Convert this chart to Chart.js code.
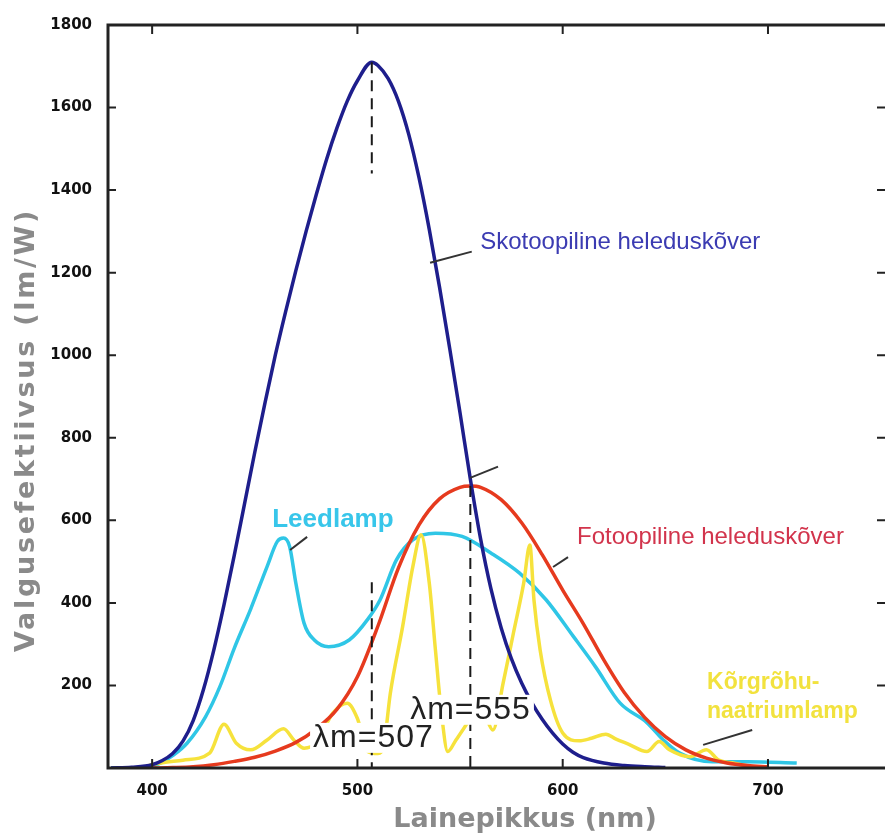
<!DOCTYPE html>
<html>
<head>
<meta charset="utf-8">
<title>Valgusefektiivsus</title>
<script src="https://cdn.jsdelivr.net/npm/chart.js@4.4.1/dist/chart.umd.min.js"></script>
<style>
  html, body { margin: 0; padding: 0; background: #fff; }
  #wrap { width: 885px; height: 837px; }
</style>
</head>
<body>
<div id="wrap"><canvas id="lumChart" width="885" height="837"></canvas></div>
<script>
// scotopic (night) curve
const scotopicNm = [380, 390, 400, 405, 410, 415, 420, 425, 430, 435, 440, 445, 450, 455, 460, 465, 470, 475, 480, 485, 490, 495, 500, 507, 510, 515, 520, 525, 530, 535, 540, 545, 550, 555, 560, 565, 570, 575, 580, 585, 590, 595, 600, 605, 610, 620, 630, 640, 650];
const scotopicLm = [0, 2, 8, 18, 35, 65, 115, 190, 285, 395, 515, 640, 765, 885, 1000, 1105, 1205, 1300, 1390, 1475, 1550, 1615, 1665, 1710, 1702, 1670, 1615, 1535, 1430, 1305, 1165, 1015, 860, 700, 555, 435, 340, 265, 206, 158, 118, 85, 58, 38, 25, 12, 6, 3, 1];

// photopic (day) curve
const photopicNm = [400, 410, 420, 430, 440, 450, 460, 470, 480, 490, 500, 510, 520, 530, 540, 550, 555, 560, 570, 580, 590, 600, 610, 620, 630, 640, 650, 660, 670, 680, 690, 700];
const photopicLm = [0, 1, 3, 8, 16, 26, 41, 62, 95, 142, 221, 344, 485, 589, 652, 680, 683, 680, 650, 594, 517, 431, 350, 262, 183, 122, 76, 44, 24, 12, 6, 3];

// LED lamp
const ledNm = [380, 395, 404, 410, 417, 426, 433, 440, 448, 456, 461, 464, 467, 470, 474, 479, 486, 496, 505, 511, 519, 527, 538, 551, 565, 579, 592, 605, 616, 628, 641, 649, 657, 673, 690, 714];
const ledLm = [0, 0, 12, 30, 60, 124, 197, 290, 385, 488, 549, 557, 536, 448, 351, 310, 294, 310, 360, 407, 504, 553, 569, 561, 521, 472, 407, 320, 245, 157, 110, 68, 36, 15, 15, 12];

// high pressure sodium lamp
const sodiumNm = [395, 400, 415, 428, 435, 441, 448, 456, 464, 469, 474, 480, 488, 495, 500, 505, 510, 513, 516, 522, 527, 531, 535, 538, 541, 544, 548, 553, 558, 562, 566, 571, 576, 581, 584, 586, 589, 594, 600, 608, 614, 621, 626, 632, 641, 647, 652, 662, 670, 676, 683, 690];
const sodiumLm = [0, 8, 19, 36, 106, 60, 44, 68, 95, 68, 48, 62, 133, 157, 120, 40, 35, 60, 180, 342, 488, 565, 448, 286, 130, 40, 68, 105, 150, 130, 92, 206, 327, 448, 540, 407, 286, 165, 85, 66, 72, 82, 70, 58, 40, 64, 44, 27, 44, 19, 12, 5];

const xTicks = [400, 500, 600, 700];
const yTicks = [200, 400, 600, 800, 1000, 1200, 1400, 1600, 1800];

const peakMarkers = [
  { nm: 507, from: 1710, to: 1440 },
  { nm: 507, from: 450, to: 0 },
  { nm: 555, from: 683, to: 0 }
];

function toPoints(xs, ys) {
  return xs.map((x, i) => ({ x: x, y: ys[i] }));
}

const frameAndNotes = {
  id: "frameAndNotes",
  afterDatasetsDraw(chart) {
    const { ctx, chartArea: a, scales: { x, y } } = chart;
    const px = (v) => x.getPixelForValue(v);
    const py = (v) => y.getPixelForValue(v);

    ctx.save();

    // dashed lines at the maxima
    ctx.strokeStyle = "#1a1a1a";
    ctx.lineWidth = 2;
    ctx.setLineDash([11, 7]);
    peakMarkers.forEach((m) => {
      ctx.beginPath();
      ctx.moveTo(px(m.nm), py(m.from));
      ctx.lineTo(px(m.nm), py(m.to));
      ctx.stroke();
    });
    ctx.setLineDash([]);

    // short leader lines
    ctx.strokeStyle = "#333";
    ctx.lineWidth = 2;
    [
      [535.4, 1224, 555.7, 1251],
      [554.9, 703, 568.5, 730],
      [595.3, 487, 602.6, 511],
      [467.2, 528, 475.5, 560],
      [668.4, 56, 692.3, 92]
    ].forEach((l) => {
      ctx.beginPath();
      ctx.moveTo(px(l[0]), py(l[1]));
      ctx.lineTo(px(l[2]), py(l[3]));
      ctx.stroke();
    });

    // labels
    ctx.textBaseline = "middle";
    ctx.textAlign = "left";
    function note(text, nm, val, font, color, box) {
      ctx.font = font;
      ctx.letterSpacing = box ? "1px" : "0px";
      const tx = px(nm), ty = py(val);
      if (box) {
        const w = ctx.measureText(text).width;
        ctx.fillStyle = "#fff";
        ctx.fillRect(tx - 3, ty - 15, w + 6, 30);
      }
      ctx.fillStyle = color;
      ctx.fillText(text, tx, ty);
    }
    note("Skotoopiline heleduskõver", 559.8, 1273, "24px 'Liberation Sans'", "#3b3bb2");
    note("Fotoopiline heleduskõver", 607, 558, "24px 'Liberation Sans'", "#d2344c");
    note("Leedlamp", 458.5, 601, "bold 26px 'Liberation Sans'", "#38c6ea");
    note("Kõrgrõhu-", 670.3, 206, "bold 23px 'Liberation Sans'", "#f2e23e");
    note("naatriumlamp", 670.3, 136, "bold 23px 'Liberation Sans'", "#f2e23e");
    note("λm=507", 478.4, 73, "32px 'Liberation Sans'", "#222", true);
    note("λm=555", 525.7, 141, "32px 'Liberation Sans'", "#222", true);
    ctx.letterSpacing = "0px";

    // frame with inward ticks
    ctx.strokeStyle = "#222";
    ctx.lineWidth = 3;
    ctx.beginPath();
    ctx.moveTo(a.right, a.top);
    ctx.lineTo(a.left, a.top);
    ctx.lineTo(a.left, a.bottom);
    ctx.lineTo(a.right, a.bottom);
    ctx.stroke();
    ctx.lineWidth = 2;
    ctx.beginPath();
    xTicks.forEach((t) => {
      const p = px(t);
      ctx.moveTo(p, a.bottom);
      ctx.lineTo(p, a.bottom - 9);
      ctx.moveTo(p, a.top);
      ctx.lineTo(p, a.top + 9);
    });
    yTicks.forEach((t) => {
      const p = py(t);
      ctx.moveTo(a.left, p);
      ctx.lineTo(a.left + 8, p);
      ctx.moveTo(a.right, p);
      ctx.lineTo(a.right - 8, p);
    });
    ctx.stroke();

    // axis titles
    ctx.fillStyle = "#8a8a8a";
    ctx.textAlign = "center";
    ctx.font = "bold 27px 'DejaVu Sans'";
    ctx.fillText("Lainepikkus (nm)", 525, 820);
    ctx.translate(27, 430);
    ctx.rotate(-Math.PI / 2);
    ctx.letterSpacing = "2.7px";
    ctx.fillText("Valgusefektiivsus (lm/W)", 0, 0);
    ctx.restore();
  }
};

const ctx = document.getElementById("lumChart");

new Chart(ctx, {
  type: "line",
  data: {
    datasets: [
      {
        label: "Skotoopiline heleduskõver",
        data: toPoints(scotopicNm, scotopicLm),
        borderColor: "#1e1e8c",
        borderWidth: 3.5
      },
      {
        label: "Fotoopiline heleduskõver",
        data: toPoints(photopicNm, photopicLm),
        borderColor: "#e63a1e",
        borderWidth: 3.5
      },
      {
        label: "Kõrgrõhu-naatriumlamp",
        data: toPoints(sodiumNm, sodiumLm),
        borderColor: "#f6e23c",
        borderWidth: 3.5
      },
      {
        label: "Leedlamp",
        data: toPoints(ledNm, ledLm),
        borderColor: "#2fc6e6",
        borderWidth: 3.5
      }
    ]
  },
  options: {
    responsive: false,
    animation: false,
    events: [],
    layout: { padding: { top: 25, right: 0, left: 0, bottom: 0 } },
    elements: {
      point: { radius: 0 },
      line: { cubicInterpolationMode: "monotone", fill: false }
    },
    plugins: {
      legend: { display: false },
      tooltip: { enabled: false }
    },
    scales: {
      x: {
        type: "linear",
        min: 378.5,
        max: 757,
        afterFit: (s) => { s.height = 69; },
        afterBuildTicks: (s) => { s.ticks = xTicks.map((v) => ({ value: v })); },
        grid: { display: false },
        border: { display: false },
        ticks: {
          padding: 6,
          color: "#111",
          font: { family: "DejaVu Sans", size: 15, weight: "bold" },
          callback: (v) => String(v)
        }
      },
      y: {
        min: 0,
        max: 1800,
        afterFit: (s) => { s.width = 108; },
        afterBuildTicks: (s) => { s.ticks = yTicks.map((v) => ({ value: v })); },
        grid: { display: false },
        border: { display: false },
        ticks: {
          padding: 8,
          color: "#111",
          font: { family: "DejaVu Sans", size: 15, weight: "bold" },
          callback: (v) => String(v)
        }
      }
    }
  },
  plugins: [frameAndNotes]
});
</script>
</body>
</html>
